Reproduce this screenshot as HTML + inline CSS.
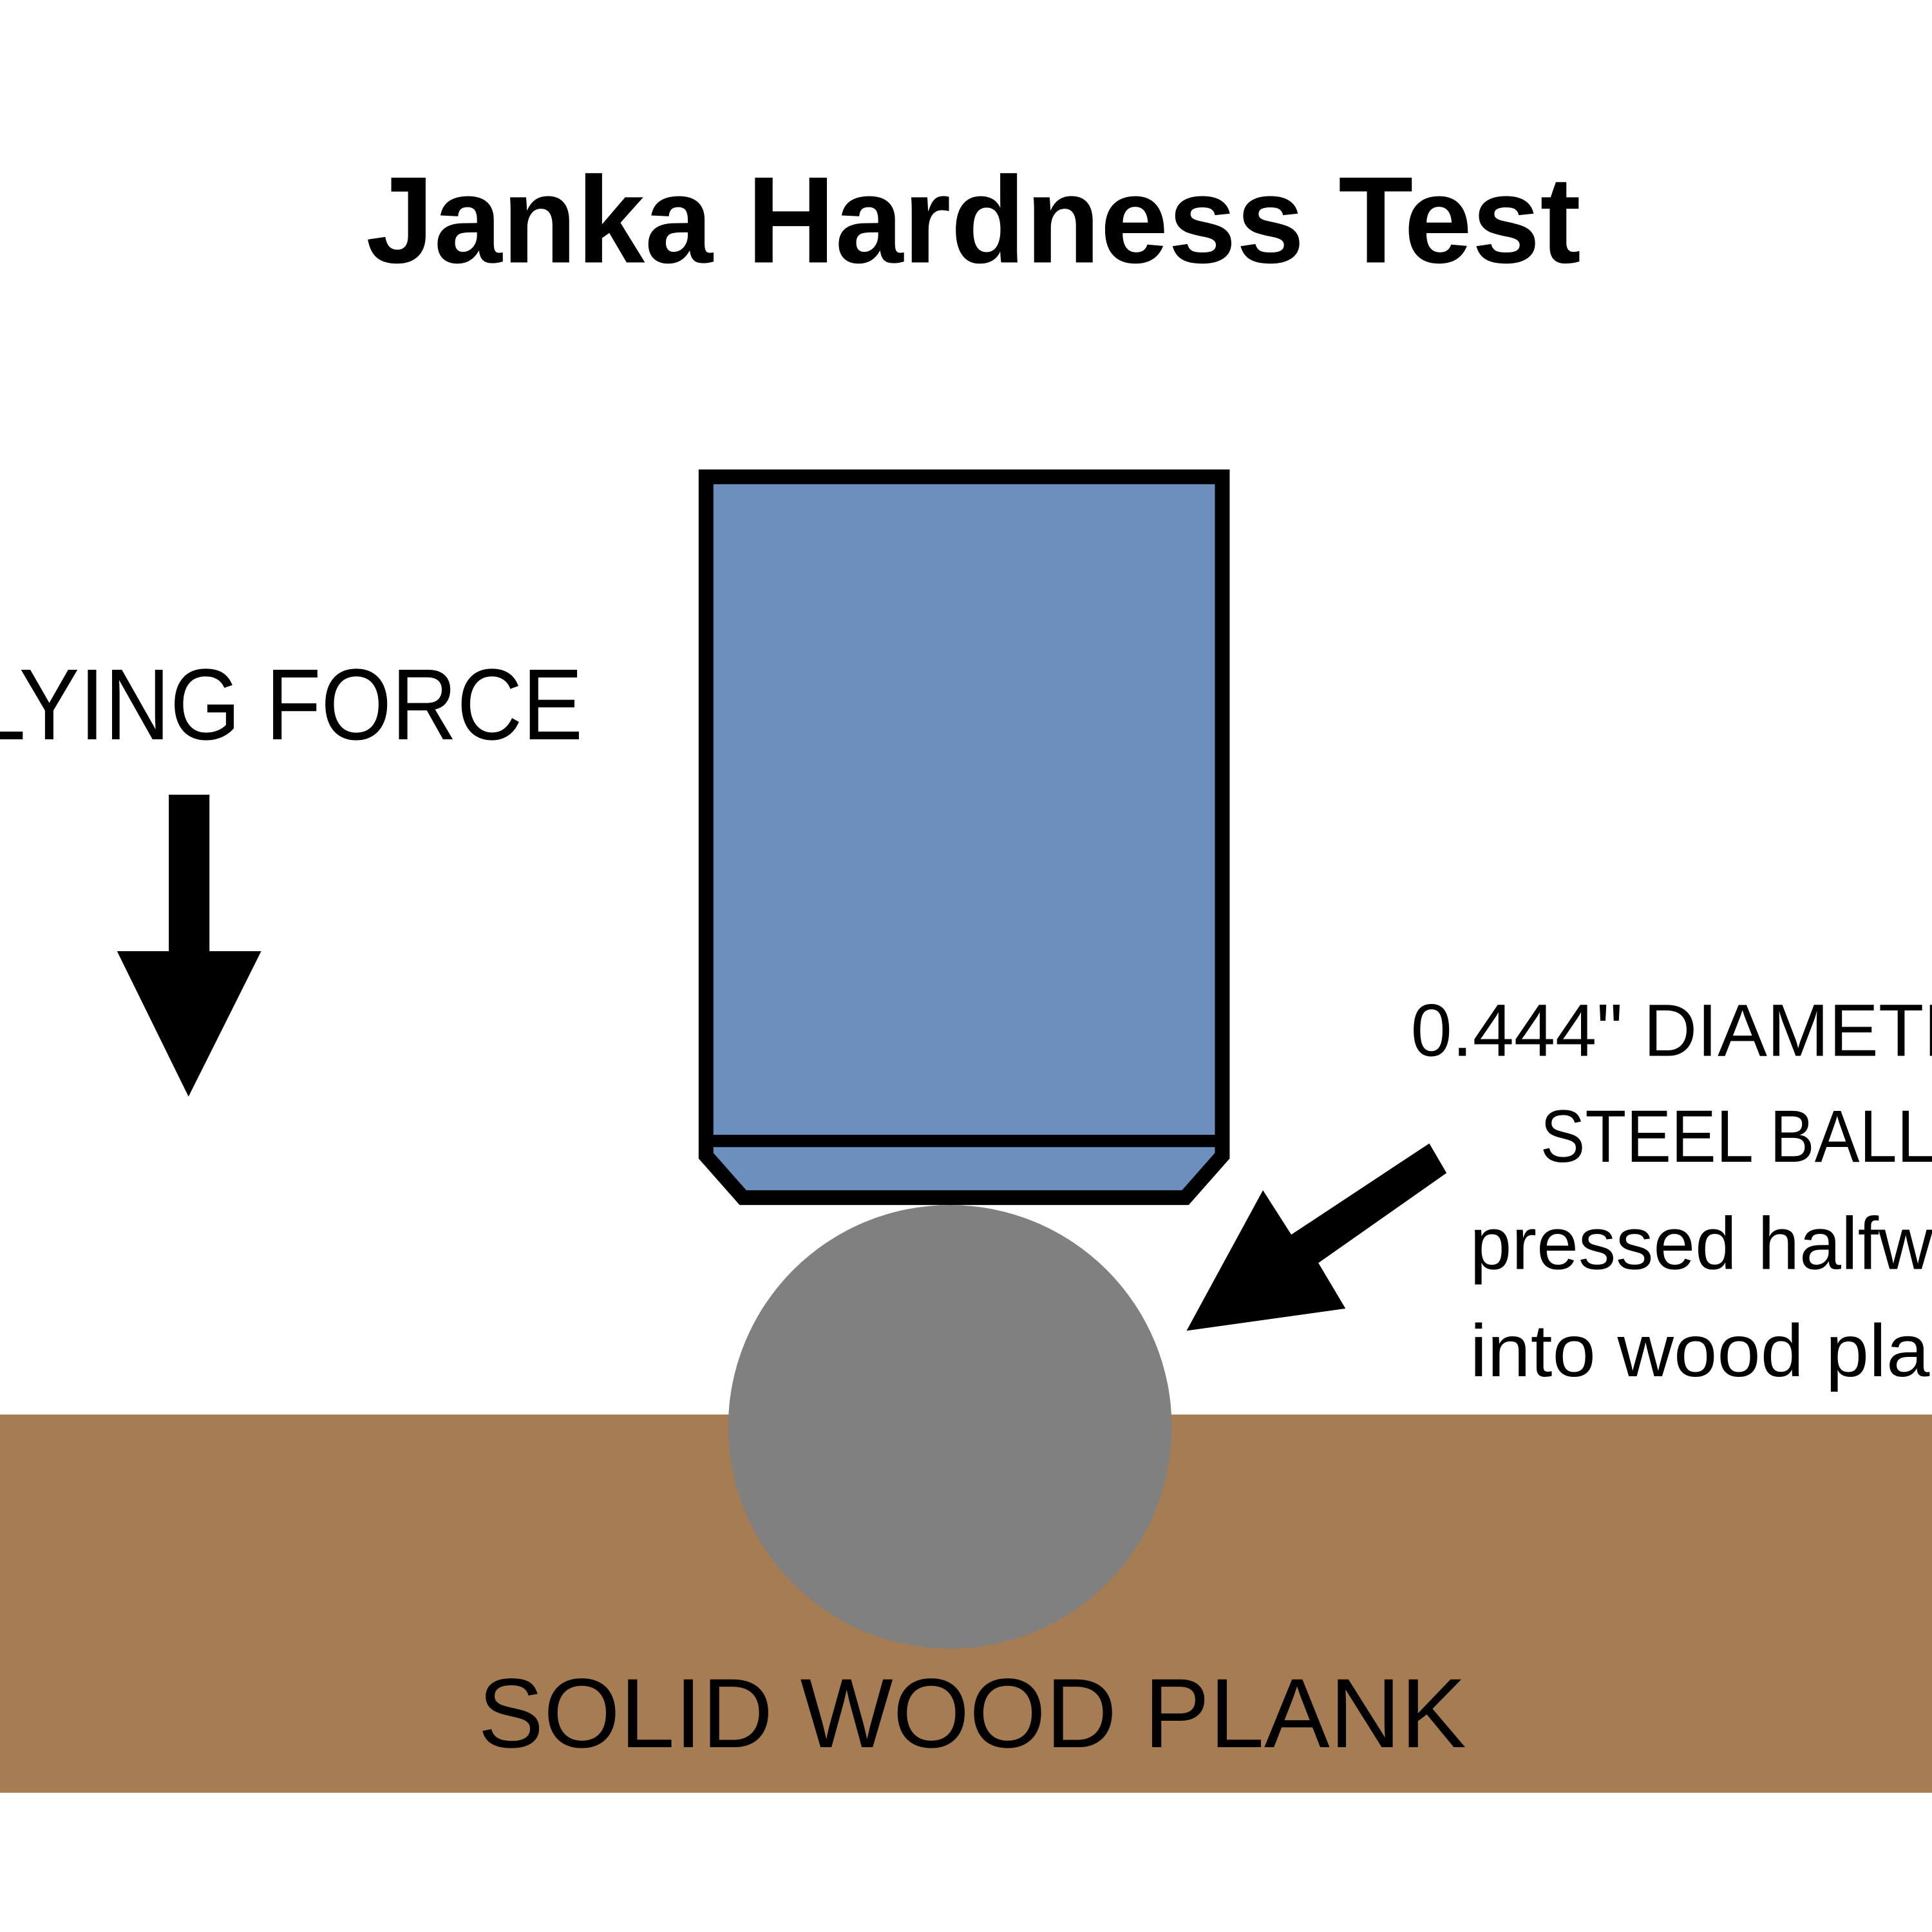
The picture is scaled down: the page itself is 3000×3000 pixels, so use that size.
<!DOCTYPE html>
<html><head><meta charset="utf-8"><style>html,body{margin:0;padding:0;background:#fff;overflow:hidden}svg{display:block}</style></head>
<body>
<svg width="3000" height="3000" viewBox="0 0 1568 1568" xmlns="http://www.w3.org/2000/svg">
<rect width="1568" height="1568" fill="#fff"/>
<text x="790" y="213" text-anchor="middle" font-family="Liberation Sans, sans-serif" font-weight="bold" font-size="100" textLength="986" lengthAdjust="spacingAndGlyphs" fill="#000">Janka Hardness Test</text>
<rect x="0" y="1148" width="1568" height="307" fill="#a67c52"/>
<circle cx="771" cy="1158" r="180" fill="#808080"/>
<path d="M573,387 H992 V938 L962,972 H603 L573,938 Z" fill="#6d8fbe" stroke="#000" stroke-width="12" stroke-linejoin="miter"/>
<line x1="573" y1="926" x2="992" y2="926" stroke="#000" stroke-width="10"/>
<text x="388" y="1418" font-family="Liberation Sans, sans-serif" font-size="80" textLength="802" lengthAdjust="spacingAndGlyphs" fill="#000">SOLID WOOD PLANK</text>
<text x="-20" y="600" font-family="Liberation Sans, sans-serif" font-size="82" textLength="493" lengthAdjust="spacingAndGlyphs" fill="#000">LYING FORCE</text>
<path d="M137,645 H170 V772 H212 L153,890 L95,772 H137 Z" fill="#000"/>
<path d="M1160,928 L1174,952 L1070,1025 L1092,1062 L963,1080 L1025,966 L1048,1002 Z" fill="#000"/>
<g font-family="Liberation Sans, sans-serif" font-size="60" fill="#000">
<text x="1145" y="857" textLength="500" lengthAdjust="spacingAndGlyphs">0.444" DIAMETER</text>
<text x="1250" y="943" textLength="320" lengthAdjust="spacingAndGlyphs">STEEL BALL</text>
<text x="1193" y="1030" textLength="440" lengthAdjust="spacingAndGlyphs">pressed halfway</text>
<text x="1193" y="1117" textLength="440" lengthAdjust="spacingAndGlyphs">into wood plank</text>
</g>
</svg>
</body></html>
